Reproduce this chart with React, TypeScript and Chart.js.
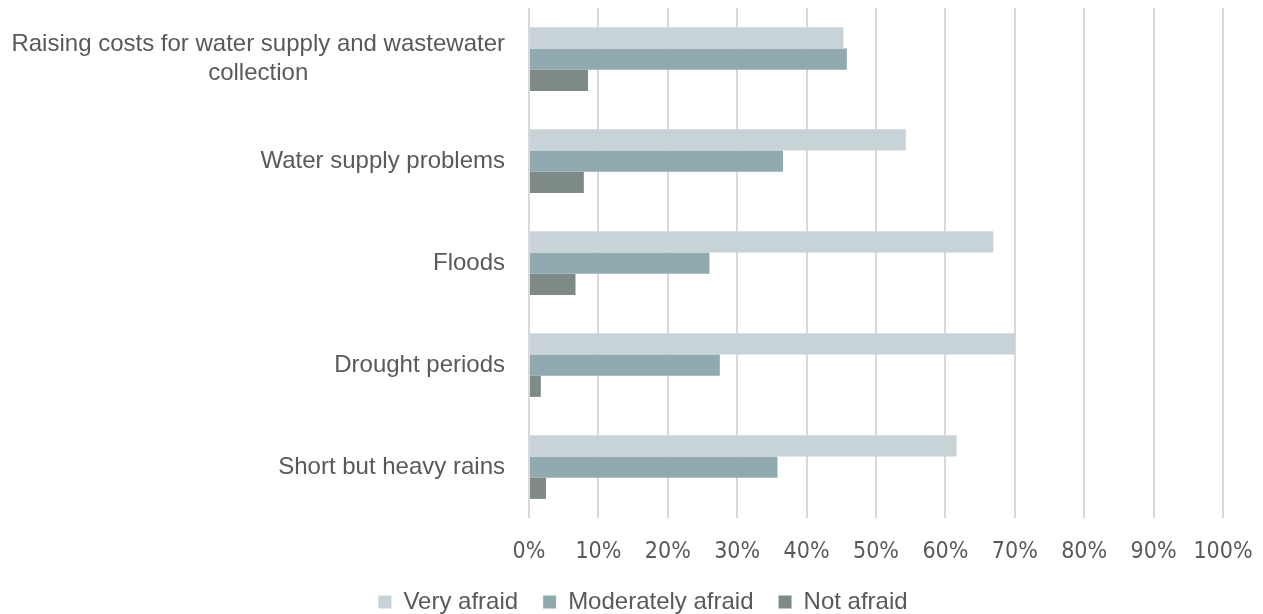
import React, { useEffect, useRef } from "react";
import { Chart, registerables } from "chart.js";

Chart.register(...registerables);

// Survey: how afraid respondents are of each water-related issue (share of answers, %)
const categories: string[][] = [
  ["Raising costs for water supply and wastewater", "collection"],
  ["Water supply problems"],
  ["Floods"],
  ["Drought periods"],
  ["Short but heavy rains"],
];

const veryAfraid = [45.3, 54.3, 66.9, 70.0, 61.6];
const moderatelyAfraid = [45.8, 36.6, 26.0, 27.5, 35.8];
const notAfraid = [8.5, 7.9, 6.7, 1.7, 2.45];

const seriesNames = ["Very afraid", "Moderately afraid", "Not afraid"];
const seriesColors = ["#c8d3d8", "#91aab0", "#7e8a87"];

const xTicks = [0, 10, 20, 30, 40, 50, 60, 70, 80, 90, 100];

const FONT = "'Liberation Sans', 'DejaVu Sans', sans-serif";
const TICK_FONT = "'Liberation Sans Narrow', 'DejaVu Sans Condensed', 'Liberation Sans', sans-serif";
const TEXT_COLOR = "#595959";
const FONT_SIZE = 24;
const TICK_SIZE = 23;

// Category labels on the left: single lines right-aligned against the axis,
// wrapped labels centred as a block.
const categoryLabels = {
  id: "categoryLabels",
  afterDraw(chart: any) {
    const { ctx } = chart;
    const yScale = chart.scales.y;
    const rightEdge = chart.chartArea.left - 24;
    const lineHeight = 29;
    ctx.save();
    ctx.font = `${FONT_SIZE}px ${FONT}`;
    ctx.fillStyle = TEXT_COLOR;
    ctx.textBaseline = "middle";
    categories.forEach((lines, i) => {
      const cy = yScale.getPixelForValue(i);
      const widths = lines.map((l) => ctx.measureText(l).width);
      const maxW = Math.max(...widths);
      const startY = cy - ((lines.length - 1) * lineHeight) / 2;
      lines.forEach((line, j) => {
        const y = startY + j * lineHeight;
        if (lines.length > 1) {
          ctx.textAlign = "center";
          ctx.fillText(line, rightEdge - maxW / 2, y);
        } else {
          ctx.textAlign = "right";
          ctx.fillText(line, rightEdge, y);
        }
      });
    });
    ctx.restore();
  },
};

export default function App() {
  const canvasRef = useRef<HTMLCanvasElement | null>(null);

  useEffect(() => {
    if (!canvasRef.current) return;
    Chart.defaults.font.family = FONT;
    Chart.defaults.color = TEXT_COLOR;

    const values = [veryAfraid, moderatelyAfraid, notAfraid];
    const chart = new Chart(canvasRef.current, {
      type: "bar",
      data: {
        labels: categories.map((c) => c.join(" ")),
        datasets: seriesNames.map((name, k) => ({
          label: name,
          data: values[k],
          backgroundColor: seriesColors[k],
          borderWidth: 0,
          categoryPercentage: 0.625,
          barPercentage: 1,
        })),
      },
      options: {
        indexAxis: "y",
        animation: false,
        responsive: false,
        maintainAspectRatio: false,
        layout: { padding: { top: 8, left: 63, right: 40, bottom: 0 } },
        plugins: {
          tooltip: { enabled: false },
          legend: {
            position: "bottom",
            labels: {
              boxWidth: 13,
              boxHeight: 13,
              padding: 25,
              color: TEXT_COLOR,
              font: { size: FONT_SIZE, family: FONT },
            },
          },
        },
        scales: {
          x: {
            min: 0,
            max: 100,
            afterBuildTicks: (scale: any) => {
              scale.ticks = xTicks.map((v) => ({ value: v }));
            },
            afterFit: (scale: any) => {
              scale.height = 47;
              scale.paddingLeft = 0;
              scale.paddingRight = 0;
            },
            grid: {
              color: "#d9d9d9",
              lineWidth: 2,
              drawTicks: false,
            },
            border: { display: false },
            ticks: {
              padding: 20,
              color: TEXT_COLOR,
              font: { size: TICK_SIZE, family: TICK_FONT },
              maxRotation: 0,
              callback: (v: any) => `${v}%`,
            },
          },
          y: {
            grid: { display: false },
            border: { display: false },
            ticks: { display: false },
            afterFit: (scale: any) => {
              scale.width = 466;
            },
          },
        },
      },
      plugins: [categoryLabels],
    });
    return () => chart.destroy();
  }, []);

  return (
    <div style={{ position: "fixed", left: 0, top: 0, width: 1263, height: 624, background: "#fff" }}>
      <canvas ref={canvasRef} width={1263} height={624} style={{ display: "block" }} />
    </div>
  );
}
